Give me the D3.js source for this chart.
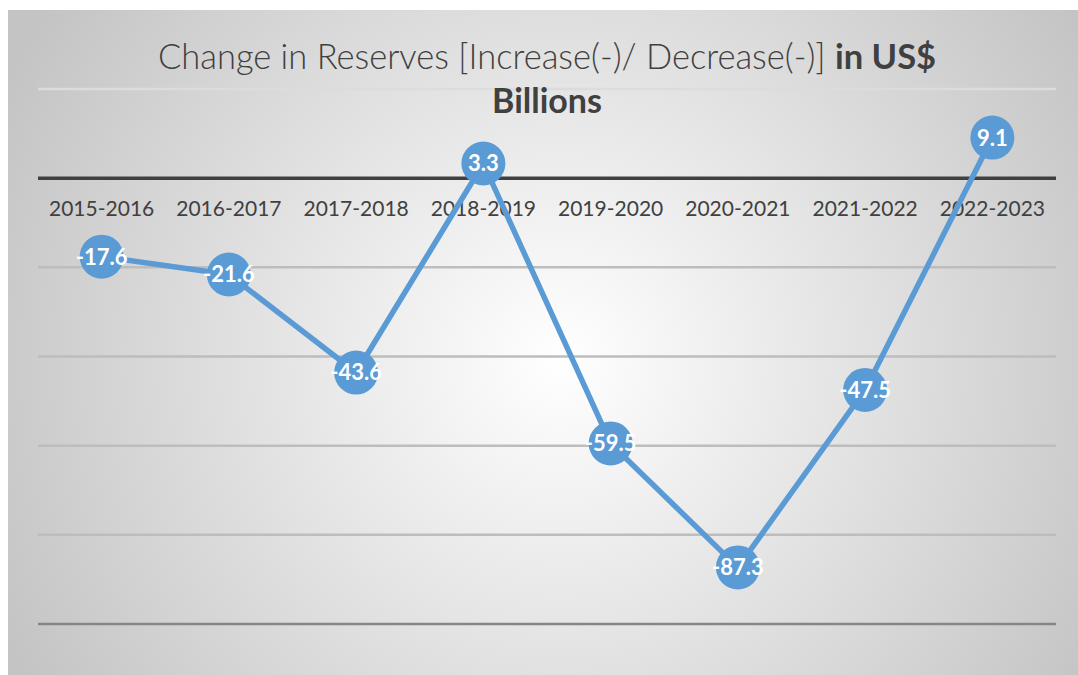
<!DOCTYPE html>
<meta charset="utf-8">
<head>
  <title>Change in Reserves</title>
</head>

<style>
body {
  margin: 0;
  background: #fff;
  font-family: Lato, "Open Sans", sans-serif;
}
</style>

<body>
  <div id="content">
    <svg width="1078" height="675"></svg>
  </div>

  <script src="https://cdnjs.cloudflare.com/ajax/libs/d3/7.8.5/d3.min.js"></script>

  <script>
var years = ['2015-2016', '2016-2017', '2017-2018', '2018-2019',
             '2019-2020', '2020-2021', '2021-2022', '2022-2023'];
var change = [-17.6, -21.6, -43.6, 3.3, -59.5, -87.3, -47.5, 9.1];
var gridTicks = [20, 0, -20, -40, -60, -80, -100];

var svg = d3.select('#content svg');

// background panel with radial gradient
var grad = svg.append('defs').append('radialGradient')
  .attr('id', 'bg')
  .attr('gradientUnits', 'userSpaceOnUse')
  .attr('cx', 560).attr('cy', 360).attr('r', 620);
grad.append('stop').attr('offset', '0%').attr('stop-color', '#ffffff');
grad.append('stop').attr('offset', '100%').attr('stop-color', '#c4c4c4');

svg.append('rect')
  .attr('x', 8).attr('y', 10)
  .attr('width', 1070).attr('height', 665)
  .attr('fill', 'url(#bg)');

var x = d3.scaleBand()
  .domain(years)
  .range([38, 1056]);

var y = d3.scaleLinear()
  .domain([-100, 20])
  .range([624, 89]);

// gridlines
svg.append('g')
  .selectAll('line')
  .data(gridTicks)
  .enter().append('line')
  .attr('x1', 38).attr('x2', 1056)
  .attr('y1', d => y(d)).attr('y2', d => y(d))
  .attr('stroke', d => d === 0 ? '#404040' : (d === -100 ? '#868686' : (d === 20 ? '#dcdcdc' : '#bdbdbd')))
  .attr('stroke-width', d => d === 0 ? 3.5 : 2.5);

// category labels
svg.append('g')
  .selectAll('text')
  .data(years)
  .enter().append('text')
  .attr('x', d => x(d) + x.bandwidth() / 2)
  .attr('y', 216)
  .attr('text-anchor', 'middle')
  .attr('font-size', 21)
  .attr('fill', '#404040')
  .text(d => d);

// title
var title = svg.append('text')
  .attr('x', 547)
  .attr('y', 69)
  .attr('text-anchor', 'middle')
  .attr('font-size', 34.5)
  .attr('fill', '#404040');
title.append('tspan').attr('font-weight', 300).text('Change in Reserves [Increase(-)/ Decrease(-)] ');
title.append('tspan').attr('font-weight', 'bold').text('in US$');
svg.append('text')
  .attr('x', 547)
  .attr('y', 113)
  .attr('text-anchor', 'middle')
  .attr('font-size', 34)
  .attr('font-weight', 'bold')
  .attr('fill', '#404040')
  .text('Billions');

// line
var line = d3.line()
  .x((d, i) => x(years[i]) + x.bandwidth() / 2)
  .y(d => y(d));

svg.append('path')
  .datum(change)
  .attr('d', line)
  .attr('fill', 'none')
  .attr('stroke', '#5b9bd5')
  .attr('stroke-width', 5.5)
  .attr('stroke-linejoin', 'round');

// markers
var pts = svg.append('g')
  .selectAll('g')
  .data(change)
  .enter().append('g')
  .attr('transform', (d, i) => 'translate(' + (x(years[i]) + x.bandwidth() / 2) + ',' + y(d) + ')');

pts.append('circle')
  .attr('r', 22)
  .attr('fill', '#5b9bd5');

pts.append('text')
  .attr('text-anchor', 'middle')
  .attr('dy', '0.36em')
  .attr('font-size', 22)
  .attr('font-weight', 'bold')
  .attr('fill', '#fff')
  .text(d => d.toFixed(1));
  </script>
</body>
</html>
